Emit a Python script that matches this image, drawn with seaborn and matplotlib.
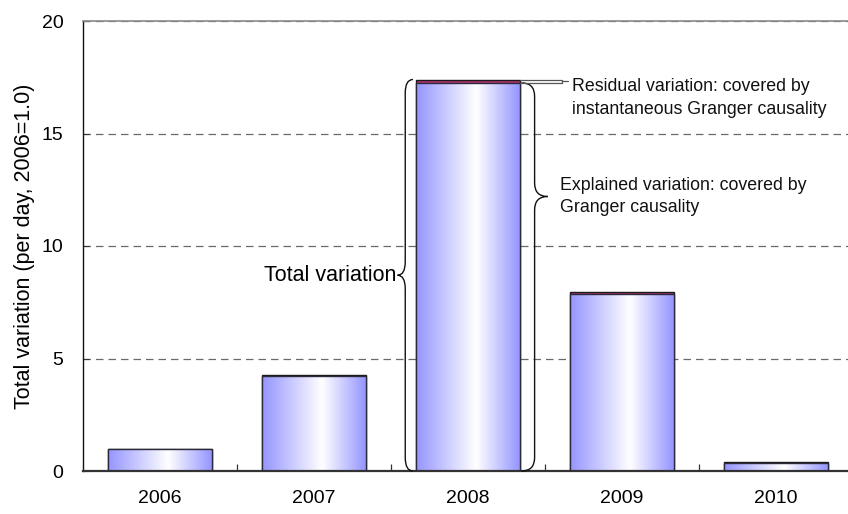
import numpy as np
import pandas as pd
import matplotlib
matplotlib.use("Agg")
import matplotlib.pyplot as plt
from matplotlib.colors import LinearSegmentedColormap
from matplotlib.path import Path
from matplotlib.patches import PathPatch
import seaborn as sns

# Daily variation per year, normalised so that 2006 = 1.0
years = ["2006", "2007", "2008", "2009", "2010"]
explained = [0.98, 4.22, 17.25, 7.85, 0.36]   # covered by Granger causality
residual = [0.02, 0.05, 0.15, 0.12, 0.02]     # covered by instantaneous Granger causality
y_ticks = [0, 5, 10, 15, 20]

totals = [e + r for e, r in zip(explained, residual)]
df = pd.DataFrame({"year": years, "explained": explained, "total": totals})

sns.set_theme(style="white")
plt.rcParams["font.family"] = ["Liberation Sans", "DejaVu Sans"]

BAR_W = 0.675
RESID_COLOR = "#B03070"

fig = plt.figure(figsize=(8.48, 5.14), dpi=100)
ax = fig.add_axes([83 / 848, 43 / 514, 770 / 848, 450 / 514])

# full bar (explained + residual) in the residual colour, explained part drawn over it
sns.barplot(data=df, x="year", y="total", color=RESID_COLOR, saturation=1,
            width=BAR_W, edgecolor="#1a1a1a", linewidth=1.0, ax=ax, zorder=1)
n_total = len(ax.patches)
sns.barplot(data=df, x="year", y="explained", color="#9999ff", saturation=1,
            width=BAR_W, edgecolor="#2a2a3a", linewidth=1.0, ax=ax, zorder=3)

# horizontal blue-white-blue shading inside the explained bars
shade = LinearSegmentedColormap.from_list(
    "shade", [(0.0, "#9595ff"), (0.58, "#ffffff"), (1.0, "#9595ff")])
grad = np.linspace(0, 1, 256).reshape(1, -1)
for p in ax.patches[n_total:]:
    x0, y0, w, h = p.get_x(), p.get_y(), p.get_width(), p.get_height()
    im = ax.imshow(grad, cmap=shade, extent=[x0, x0 + w, y0, y0 + h],
                   aspect="auto", interpolation="bicubic", zorder=2)
    im.set_clip_path(p)
    p.set_facecolor("none")

ax.set_xlim(-0.5, 4.5)
ax.set_ylim(0, 20)
ax.set_yticks(y_ticks)
ax.set_yticklabels([str(t) for t in y_ticks])
ax.set_xticks(range(len(years)))
ax.set_xticklabels(years)
ax.set_xticks(np.arange(0.5, len(years) - 1, 1.0), minor=True)

ax.set_axisbelow(True)
ax.yaxis.grid(True, linestyle=(0, (6, 4)), color="#6a6a6a", linewidth=0.9)
ax.xaxis.grid(False)

ax.spines["right"].set_visible(False)
ax.spines["top"].set_color("#8a8a8a")
ax.spines["top"].set_linewidth(1.2)
ax.spines["left"].set_color("#111111")
ax.spines["left"].set_linewidth(1.0)
ax.spines["bottom"].set_color("#333333")
ax.spines["bottom"].set_linewidth(1.6)

ax.tick_params(axis="y", which="major", left=True, direction="in", length=4,
               width=0.8, color="#333333", pad=14, labelsize=14, labelcolor="black")
ax.tick_params(axis="x", which="major", bottom=True, length=0, pad=14,
               labelsize=14, labelcolor="black")
ax.tick_params(axis="x", which="minor", bottom=True, direction="in", length=5,
               width=0.9, color="#333333")

ax.set_xlabel("")
ax.set_ylabel("Total variation (per day, 2006=1.0)", fontsize=15.5, labelpad=5,
              color="black")


def curly_brace(ax, x_base, y0, y1, width, y_tip=None, r=0.6, **kw):
    """Vertical curly brace: ends at x_base, pointing towards x_base + width."""
    if y_tip is None:
        y_tip = (y0 + y1) / 2
    xm = x_base + width / 2
    xt = x_base + width
    verts = [(x_base, y0), (xm, y0), (xm, y0 + r),
             (xm, y_tip - r),
             (xm, y_tip), (xt, y_tip),
             (xm, y_tip), (xm, y_tip + r),
             (xm, y1 - r),
             (xm, y1), (x_base, y1)]
    codes = [Path.MOVETO, Path.CURVE3, Path.CURVE3,
             Path.LINETO,
             Path.CURVE3, Path.CURVE3,
             Path.CURVE3, Path.CURVE3,
             Path.LINETO,
             Path.CURVE3, Path.CURVE3]
    ax.add_patch(PathPatch(Path(verts, codes), fill=False, **kw))


i08 = years.index("2008")
left_edge = i08 - BAR_W / 2
right_edge = i08 + BAR_W / 2
brace_kw = dict(edgecolor="#111111", linewidth=1.0, zorder=4, clip_on=False)

# total variation: whole 2008 bar
curly_brace(ax, left_edge - 0.02, 0, totals[i08], -0.10, **brace_kw)
ax.text(left_edge - 0.13, totals[i08] / 2, "Total variation", ha="right",
        va="center", fontsize=15.5, color="black")

# explained variation: lower part of the 2008 bar
y_exp_tip = 12.2
curly_brace(ax, right_edge + 0.01, 0, explained[i08], 0.17, y_tip=y_exp_tip,
            **brace_kw)
ax.text(right_edge + 0.26, y_exp_tip, "Explained variation: covered by\nGranger causality",
        ha="left", va="center", fontsize=12.8, linespacing=1.45,
        color="#111111")

# residual variation: thin top slice of the 2008 bar
xb = right_edge + 0.27
ax.plot([right_edge, xb, xb, right_edge],
        [totals[i08], totals[i08], explained[i08], explained[i08]],
        color="#555555", linewidth=0.9, zorder=4, clip_on=False)
ax.plot([xb, xb + 0.04], [(totals[i08] + explained[i08]) / 2] * 2,
        color="#555555", linewidth=0.9, zorder=4, clip_on=False)
ax.text(xb + 0.07, totals[i08] + 0.05,
        "Residual variation: covered by\ninstantaneous Granger causality",
        ha="left", va="top", fontsize=12.8, linespacing=1.45,
        color="#111111")

fig.savefig("out.png", dpi=100)
